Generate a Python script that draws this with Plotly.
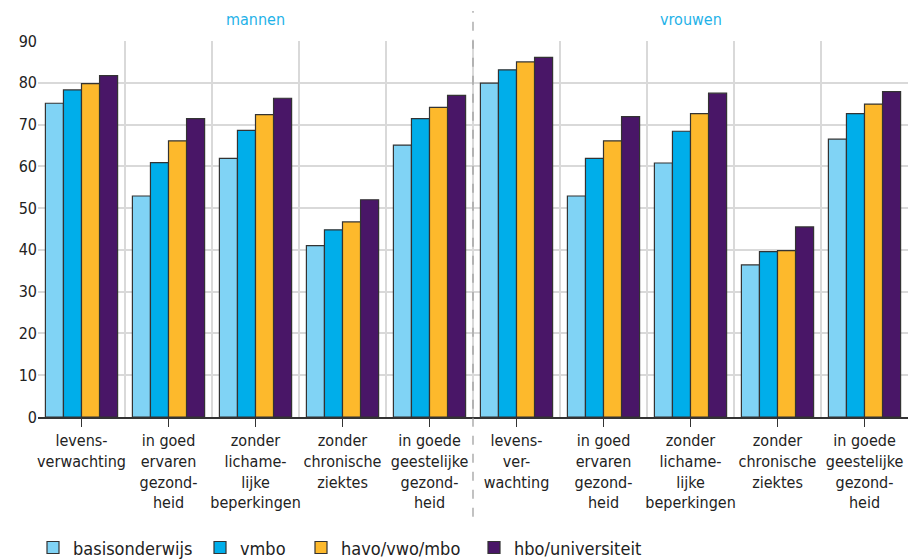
import plotly.graph_objects as go

# categorieën (mannen 0-4, vrouwen 5-9)
categorieen = [
    "levens-<br>verwachting",
    "in goed<br>ervaren<br>gezond-<br>heid",
    "zonder<br>lichame-<br>lijke<br>beperkingen",
    "zonder<br>chronische<br>ziektes",
    "in goede<br>geestelijke<br>gezond-<br>heid",
    "levens-<br>ver-<br>wachting",
    "in goed<br>ervaren<br>gezond-<br>heid",
    "zonder<br>lichame-<br>lijke<br>beperkingen",
    "zonder<br>chronische<br>ziektes",
    "in goede<br>geestelijke<br>gezond-<br>heid",
]
groepen = ["mannen", "vrouwen"]

basisonderwijs = [75.1, 52.9, 61.9, 41.0, 65.1, 79.9, 52.9, 60.8, 36.4, 66.5]
vmbo = [78.3, 60.9, 68.6, 44.8, 71.4, 83.1, 61.9, 68.4, 39.6, 72.6]
havo_vwo_mbo = [79.8, 66.1, 72.4, 46.7, 74.1, 85.0, 66.1, 72.6, 39.8, 74.9]
hbo_universiteit = [81.7, 71.4, 76.3, 52.0, 77.0, 86.1, 71.9, 77.5, 45.5, 77.9]

series = {
    "basisonderwijs": (basisonderwijs, "#80d3f5"),
    "vmbo": (vmbo, "#00aeea"),
    "havo/vwo/mbo": (havo_vwo_mbo, "#fdb92c"),
    "hbo/universiteit": (hbo_universiteit, "#491667"),
}

FONT = "Liberation Sans Narrow, DejaVu Sans Condensed, sans-serif"
x = list(range(len(categorieen)))
# linkerpositie (px) van elk legenda-item
legenda_x = [33, 200, 301, 474]

fig = go.Figure()
legends = {}
for i, (naam, (waarden, kleur)) in enumerate(series.items()):
    key = "legend" if i == 0 else f"legend{i + 1}"
    fig.add_trace(go.Bar(
        x=x, y=waarden, name=naam, legend=key,
        marker=dict(color=kleur, line=dict(color="#333333", width=1.2)),
    ))
    legends[key] = dict(orientation="h", xref="container", yref="container",
                        x=legenda_x[i] / 908, y=0.02, yanchor="middle", xanchor="left",
                        font=dict(size=18, family=FONT), bgcolor="rgba(0,0,0,0)")

# scheidingslijn tussen mannen en vrouwen
n = len(categorieen) // 2
fig.add_shape(type="line", xref="x", yref="paper", x0=n - 0.5, x1=n - 0.5,
              y0=-0.265, y1=1.08, line=dict(color="#999999", width=1.2, dash="dash"))

for i, g in enumerate(groepen):
    fig.add_annotation(x=i * n + (n - 1) / 2, y=1.056, xref="x", yref="paper",
                       text=g, showarrow=False, yanchor="middle",
                       font=dict(size=16, color="#1fb2e8", family=FONT))

fig.update_layout(
    width=908, height=559,
    margin=dict(l=38, r=0, t=41, b=142, autoexpand=False),
    plot_bgcolor="white", paper_bgcolor="white",
    barmode="group", bargap=0.17, bargroupgap=0,
    font=dict(family=FONT, size=15, color="#222222"),
    showlegend=True,
    **legends,
)
fig.update_xaxes(
    range=[-0.5, len(categorieen) - 0.5], automargin=False,
    tickmode="array", tickvals=x, ticktext=categorieen,
    ticks="outside", ticklen=8, tickcolor="#333333", tickwidth=1,
    showgrid=False, zeroline=False,
    showline=True, linecolor="#333333", linewidth=1.5,
    minor=dict(tick0=-0.5, dtick=1, showgrid=True, gridcolor="#d9d9d9", gridwidth=1.5, ticks=""),
    tickfont=dict(size=16, family=FONT, color="#222222"),
)
fig.update_yaxes(
    range=[0, 90], dtick=10, showgrid=True, gridcolor="#d9d9d9", gridwidth=1.5,
    automargin=False, zeroline=False, ticks="",
    tickfont=dict(size=16, family=FONT, color="#222222"),
)

# standaard body-marge van de pagina weghalen
fig.write_html("out.html", config={"displayModeBar": False},
               post_script="document.body.style.margin='0';")
